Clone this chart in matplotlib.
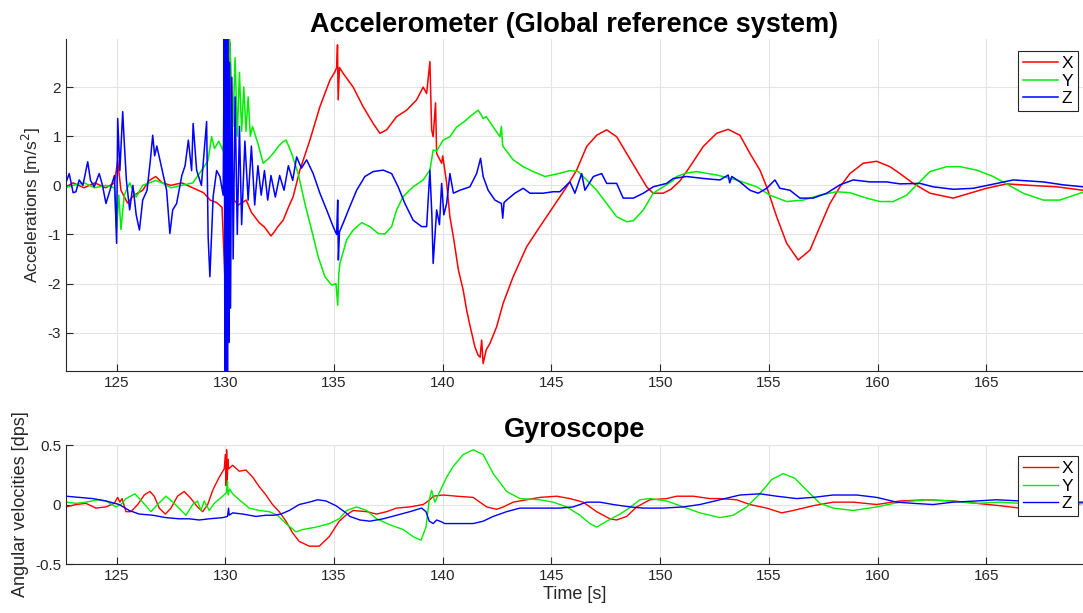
import matplotlib
matplotlib.use("Agg")
import matplotlib.pyplot as plt

plt.rcParams['font.family'] = ['Liberation Sans', 'DejaVu Sans']
plt.rcParams['axes.unicode_minus'] = False

# --- accelerometer, global frame [m/s^2] ---
acc_x_t = [122.6, 123.0, 123.5, 124.0, 124.5, 124.9, 125.05, 125.2, 125.5, 125.8, 126.2, 126.5, 126.8, 127.1,
           127.5, 128.0, 128.5, 129.0, 129.3, 129.6, 129.85, 130.0, 130.05, 130.1, 130.15, 130.22, 130.3, 130.4,
           130.6, 130.96, 131.2, 131.56, 131.8, 132.1, 132.25, 132.4, 132.66, 132.9, 133.12, 133.43, 133.89,
           134.35, 134.81, 135.04, 135.12, 135.16, 135.19, 135.25, 135.42, 135.88, 136.34, 136.8, 137.11, 137.42,
           137.88, 138.34, 138.8, 139.1, 139.26, 139.41, 139.49, 139.56, 139.67, 139.72, 139.95, 140.0, 140.18,
           140.33, 140.49, 140.72, 140.94, 141.1, 141.25, 141.48, 141.63, 141.72, 141.79, 141.86, 142.0, 142.17,
           142.48, 142.78, 143.24, 143.86, 144.47, 145.08, 145.7, 146.16, 146.62, 147.08, 147.54, 148.0, 148.46,
           148.92, 149.38, 149.68, 150.14, 150.5, 150.91, 151.37, 151.98, 152.6, 153.13, 153.67, 154.13, 154.59,
           154.9, 155.36, 155.82, 156.35, 156.89, 157.35, 157.81, 158.27, 158.73, 159.34, 159.96, 160.57, 161.03,
           161.64, 162.41, 163.48, 164.25, 165.01, 165.93, 167.0, 168.24, 169.45]
acc_x = [-0.05, 0.05, -0.05, 0.05, -0.05, 0.05, 0.5, -0.1, -0.36, -0.2, -0.1, 0.1, 0.18, 0.05,
         0.0, 0.05, -0.05, -0.15, -0.3, -0.35, -0.45, -2.1, -2.8, -1.0, 1.5, 2.9, 0.5, -0.3,
         -0.4, -0.3, -0.55, -0.76, -0.85, -1.03, -0.95, -0.85, -0.71, -0.45, -0.23, 0.31, 0.92,
         1.6, 2.14, 2.31, 2.4, 2.86, 1.74, 2.4, 2.28, 2.0, 1.6, 1.26, 1.06, 1.13,
         1.4, 1.53, 1.74, 2.0, 1.87, 2.52, 1.13, 0.99, 1.68, 0.65, 0.45, 0.6, 0.05,
         -0.64, -1.05, -1.72, -2.13, -2.54, -2.85, -3.29, -3.46, -3.5, -3.15, -3.63, -3.35, -3.22,
         -2.88, -2.4, -1.86, -1.25, -0.84, -0.44, -0.03, 0.31, 0.79, 1.02, 1.13, 0.99, 0.65,
         0.31, -0.03, -0.16, -0.16, -0.08, 0.09, 0.38, 0.79, 1.06, 1.14, 1.02, 0.65, 0.31,
         -0.03, -0.64, -1.18, -1.52, -1.32, -0.84, -0.37, -0.03, 0.24, 0.45, 0.49, 0.38, 0.24,
         0.04, -0.16, -0.26, -0.16, -0.06, 0.03, 0.0, -0.03, -0.1]

acc_y_t = [122.6, 123.0, 123.5, 124.0, 124.5, 124.9, 125.0, 125.1, 125.2, 125.35, 125.6, 125.9, 126.2, 126.5,
           126.8, 127.1, 127.5, 128.0, 128.5, 128.9, 129.2, 129.37, 129.5, 129.7, 129.9, 130.05, 130.2, 130.35,
           130.45, 130.55, 130.65, 130.75, 130.85, 130.95, 131.05, 131.15, 131.25, 131.5, 131.74, 132.0, 132.2,
           132.45, 132.66, 132.8, 133.05, 133.35, 133.66, 133.97, 134.27, 134.58, 134.89, 135.09, 135.17, 135.22,
           135.27, 135.58, 135.88, 136.27, 136.65, 137.03, 137.34, 137.65, 137.88, 138.18, 138.64, 139.1, 139.41,
           139.56, 139.72, 140.02, 140.33, 140.64, 141.0, 141.25, 141.63, 141.75, 141.86, 142.0, 142.32, 142.63,
           142.7, 142.75, 142.78, 143.24, 143.7, 144.16, 144.7, 145.24, 145.85, 146.23, 146.62, 147.08, 147.54,
           148.0, 148.46, 148.77, 149.23, 149.68, 150.14, 150.6, 150.76, 151.2, 151.68, 152.6, 153.52, 154.44,
           155.05, 155.82, 156.58, 157.35, 158.11, 158.73, 159.5, 160.11, 160.72, 161.34, 161.8, 162.41, 163.18,
           163.8, 164.56, 165.32, 165.93, 166.7, 167.62, 168.38, 169.45]
acc_y = [-0.05, 0.0, 0.05, -0.05, 0.0, -0.05, -0.91, -0.2, -0.9, -0.2, 0.05, -0.24, 0.0, 0.05,
         0.1, 0.05, -0.05, 0.0, 0.05, 0.3, 0.5, 0.99, 0.75, 0.9, 0.7, 1.5, 2.98, 1.2,
         2.6, 1.0, 2.3, 1.1, 2.0, 1.1, 1.8, 1.0, 1.2, 0.85, 0.45, 0.55, 0.65,
         0.8, 0.89, 0.92, 0.65, 0.24, -0.37, -0.91, -1.45, -1.86, -2.03, -2.0, -2.44, -1.8,
         -1.59, -1.11, -0.91, -0.76, -0.84, -0.98, -0.99, -0.84, -0.5, -0.23, -0.03, 0.11, 0.31,
         0.72, 0.7, 0.92, 0.99, 1.19, 1.3, 1.4, 1.53, 1.45, 1.36, 1.4, 1.19, 0.99,
         1.2, 0.85, 0.79, 0.52, 0.38, 0.28, 0.18, 0.23, 0.3, 0.28, 0.11, -0.1, -0.37,
         -0.64, -0.74, -0.72, -0.5, -0.16, -0.03, 0.1, 0.18, 0.25, 0.28, 0.21, 0.11, -0.03,
         -0.2, -0.33, -0.3, -0.2, -0.13, -0.15, -0.26, -0.33, -0.33, -0.2, 0.01, 0.28, 0.38,
         0.38, 0.31, 0.18, 0.03, -0.16, -0.3, -0.3, -0.14]

acc_z_t = [122.6, 122.82, 123.0, 123.13, 123.28, 123.45, 123.67, 123.8, 123.97, 124.2, 124.35, 124.51, 124.74,
           124.9, 125.0, 125.05, 125.15, 125.28, 125.35, 125.45, 125.6, 125.75, 125.9, 126.05, 126.2, 126.4,
           126.55, 126.66, 126.75, 126.85, 127.1, 127.3, 127.45, 127.58, 127.76, 128.0, 128.15, 128.3, 128.45,
           128.52, 128.68, 128.9, 129.14, 129.21, 129.29, 129.44, 129.6, 129.75, 129.9, 129.95, 129.98, 130.01,
           130.04, 130.07, 130.1, 130.13, 130.16, 130.2, 130.24, 130.3, 130.36, 130.45, 130.55, 130.65, 130.75,
           130.9, 131.05, 131.2, 131.35, 131.5, 131.65, 131.8, 131.95, 132.1, 132.3, 132.5, 132.7, 132.9, 133.1,
           133.28, 133.5, 133.74, 134.04, 134.35, 134.66, 134.96, 135.12, 135.17, 135.2, 135.25, 135.42, 135.73,
           136.04, 136.42, 136.8, 137.26, 137.65, 137.95, 138.26, 138.64, 139.03, 139.26, 139.41, 139.5, 139.56,
           139.72, 139.85, 139.95, 140.05, 140.18, 140.33, 140.49, 140.79, 141.25, 141.56, 141.74, 141.86, 142.09,
           142.4, 142.7, 142.76, 142.82, 142.94, 143.32, 143.7, 144.01, 144.62, 145.08, 145.39, 145.85, 146.08,
           146.39, 146.54, 146.93, 147.31, 147.54, 148.0, 148.3, 148.77, 149.23, 149.68, 150.3, 150.6, 151.22,
           151.98, 152.75, 153.13, 153.2, 153.3, 153.67, 154.13, 154.51, 154.9, 155.28, 155.51, 155.97, 156.43,
           157.04, 157.66, 158.27, 158.88, 159.65, 160.42, 161.03, 161.95, 162.56, 163.48, 164.4, 165.17,
           166.24, 167.62, 168.54, 169.45]
acc_z = [-0.03, 0.24, -0.15, -0.13, 0.11, 0.0, 0.48, 0.1, -0.03, 0.24, 0.0, -0.37, -0.03,
         0.2, -1.18, 1.36, 0.3, 1.5, 0.89, 0.1, -0.5, 0.0, -0.6, -0.91, -0.3, -0.1,
         0.5, 1.02, 0.6, 0.8, 0.3, -0.1, -0.98, -0.5, -0.37, 0.2, 0.4, 0.92, 0.3,
         1.26, 0.31, 0.0, 1.3, -1.05, -1.86, -0.23, 0.3, 0.18, -0.2, 2.98, -3.78, 2.98,
         -3.78, 2.98, -3.78, 2.98, -3.2, 2.5, -2.5, 2.2, -1.5, 1.8, -1.0, 1.2, -0.8,
         0.9, -0.3, 0.8, -0.4, 0.4, -0.2, 0.3, -0.3, 0.2, -0.24, 0.2, -0.1, 0.4, 0.1,
         0.58, 0.35, 0.52, 0.24, -0.16, -0.5, -0.84, -1.0, -0.3, -1.52, -0.95, -0.77, -0.43,
         -0.1, 0.18, 0.28, 0.31, 0.24, -0.03, -0.37, -0.71, -0.84, -0.84, 0.31, -0.6, -1.59,
         -0.5, -0.8, 0.04, -0.6, -0.37, 0.24, -0.16, -0.1, -0.03, 0.24, 0.55, 0.18, -0.1,
         -0.3, -0.37, -0.67, -0.35, -0.3, -0.16, -0.06, -0.16, -0.16, -0.13, -0.13, 0.07, -0.16,
         0.24, -0.1, 0.18, 0.24, 0.04, 0.04, -0.26, -0.26, -0.16, -0.03, 0.04, 0.14, 0.18,
         0.14, 0.11, 0.21, 0.05, 0.18, 0.07, -0.1, -0.16, -0.06, 0.11, -0.06, -0.1, -0.26,
         -0.26, -0.16, 0.01, 0.11, 0.07, 0.07, 0.03, 0.04, -0.03, -0.08, -0.06, 0.01,
         0.11, 0.07, 0.01, -0.03]

# --- gyroscope [dps] ---
gyr_x_t = [122.67, 123.13, 123.59, 124.05, 124.51, 124.89, 125.05, 125.15, 125.25, 125.43, 125.66, 125.97, 126.27,
           126.53, 126.73, 126.96, 127.24, 127.5, 127.8, 128.11, 128.42, 128.72, 128.96, 129.19, 129.42, 129.72,
           129.95, 130.0, 130.03, 130.06, 130.09, 130.12, 130.15, 130.34, 130.64, 130.95, 131.26, 131.56, 131.87,
           132.17, 132.48, 132.79, 133.1, 133.4, 133.86, 134.32, 134.78, 135.24, 135.55, 135.88, 136.5, 136.96,
           137.42, 137.88, 138.49, 139.1, 139.41, 139.56, 140.02, 140.64, 141.4, 141.71, 142.02, 142.48, 142.79,
           143.24, 143.86, 144.47, 145.24, 145.85, 146.46, 147.08, 147.69, 147.99, 148.46, 148.92, 149.53, 150.3,
           150.76, 151.52, 152.29, 152.75, 153.52, 154.13, 154.9, 155.59, 156.12, 157.04, 157.96, 158.88, 159.96,
           161.03, 162.26, 163.48, 164.56, 165.63, 166.55, 168.39, 169.45]
gyr_x = [-0.02, 0.0, 0.01, -0.03, -0.02, 0.01, 0.06, 0.02, 0.05, -0.06, -0.06, 0.0, 0.08,
         0.11, 0.07, -0.03, -0.08, -0.03, 0.07, 0.11, 0.05, -0.02, -0.06, 0.0, 0.12, 0.23,
         0.3, 0.42, 0.16, 0.46, 0.2, 0.38, 0.3, 0.33, 0.28, 0.29, 0.23, 0.15, 0.08,
         0.0, -0.06, -0.14, -0.24, -0.31, -0.35, -0.35, -0.27, -0.14, -0.09, -0.05, -0.06, -0.08,
         -0.06, -0.03, -0.02, 0.0, 0.04, 0.07, 0.08, 0.07, 0.06, 0.02, -0.02, -0.04, -0.02,
         0.02, 0.04, 0.06, 0.07, 0.05, 0.02, -0.06, -0.12, -0.13, -0.1, -0.02, 0.04, 0.05,
         0.07, 0.07, 0.05, 0.05, 0.04, 0.0, -0.03, -0.07, -0.05, -0.01, 0.02, 0.02, 0.0,
         0.03, 0.04, 0.03, 0.01, -0.01, -0.03, -0.01, 0.01]

gyr_y_t = [122.67, 123.13, 123.59, 124.13, 124.51, 124.97, 125.2, 125.43, 125.84, 126.2, 126.58, 126.88, 127.27,
           127.65, 128.19, 128.5, 128.72, 128.88, 129.03, 129.26, 129.49, 129.88, 130.05, 130.1, 130.13, 130.2,
           130.34, 130.64, 131.1, 131.56, 132.02, 132.4, 132.79, 133.25, 133.56, 134.17, 134.78, 135.24, 135.58,
           136.04, 136.5, 136.96, 137.57, 138.18, 138.64, 139.0, 139.23, 139.38, 139.49, 139.64, 139.87, 140.18,
           140.48, 140.94, 141.4, 141.86, 142.32, 142.94, 143.55, 144.47, 145.08, 145.7, 146.31, 146.77, 147.08,
           147.54, 148.15, 148.5, 149.07, 149.53, 150.3, 151.06, 151.83, 152.75, 153.36, 153.98, 154.59, 155.13,
           155.66, 156.2, 156.74, 157.35, 157.96, 158.88, 159.96, 161.03, 162.26, 163.33, 164.56, 165.63, 166.55,
           168.39, 169.45]
gyr_y = [0.02, 0.01, 0.02, 0.04, 0.03, -0.02, 0.0, 0.05, 0.09, 0.02, -0.06, 0.0, 0.07,
         0.01, -0.09, 0.0, 0.03, -0.05, 0.03, -0.05, 0.01, 0.07, 0.1, 0.2, 0.08, 0.13,
         0.09, 0.04, -0.03, -0.05, -0.06, -0.09, -0.16, -0.23, -0.21, -0.19, -0.16, -0.12, -0.05,
         -0.02, -0.05, -0.12, -0.17, -0.21, -0.27, -0.3, -0.19, 0.04, 0.12, 0.02, 0.11, 0.23,
         0.32, 0.42, 0.46, 0.42, 0.26, 0.11, 0.05, 0.04, 0.02, -0.02, -0.09, -0.16, -0.19,
         -0.14, -0.08, -0.04, 0.04, 0.05, 0.03, -0.02, -0.07, -0.11, -0.09, -0.02, 0.09, 0.21,
         0.26, 0.22, 0.12, 0.01, -0.03, -0.05, -0.02, 0.02, 0.04, 0.03, 0.01, 0.02, 0.01,
         0.0, 0.01]

gyr_z_t = [122.67, 123.28, 123.9, 124.51, 125.12, 125.58, 126.04, 126.66, 127.27, 127.88, 128.34, 128.8, 129.26,
           129.88, 130.1, 130.15, 130.18, 130.34, 130.8, 131.41, 131.87, 132.25, 132.56, 132.94, 133.4, 133.86,
           134.25, 134.63, 135.09, 135.55, 135.73, 136.19, 136.65, 137.26, 137.88, 138.49, 139.03, 139.23, 139.38,
           139.56, 139.72, 139.87, 140.1, 140.64, 141.4, 141.86, 142.32, 142.94, 143.55, 144.47, 145.39, 146.0,
           146.62, 147.23, 147.84, 148.61, 149.22, 150.14, 151.06, 151.83, 152.75, 153.67, 154.59, 155.36, 156.28,
           157.04, 157.96, 159.04, 159.96, 160.88, 161.64, 162.56, 163.48, 164.56, 165.48, 166.55, 168.39, 169.45]
gyr_z = [0.07, 0.06, 0.05, 0.03, 0.0, -0.05, -0.08, -0.09, -0.11, -0.12, -0.12, -0.13, -0.12,
         -0.11, -0.1, -0.03, -0.09, -0.07, -0.08, -0.1, -0.09, -0.09, -0.08, -0.05, 0.0, 0.02,
         0.04, 0.03, -0.01, -0.07, -0.1, -0.13, -0.14, -0.12, -0.09, -0.06, -0.03, -0.06, -0.14,
         -0.16, -0.13, -0.14, -0.16, -0.16, -0.16, -0.14, -0.1, -0.06, -0.03, -0.03, -0.03, -0.02,
         0.02, 0.02, 0.0, -0.02, -0.03, -0.03, -0.02, 0.0, 0.04, 0.08, 0.09, 0.07, 0.05,
         0.06, 0.08, 0.08, 0.06, 0.02, 0.01, 0.0, 0.02, 0.03, 0.04, 0.03, 0.02, 0.02]

labels = ['X', 'Y', 'Z']
colors = ['#ff0000', '#00ee00', '#0000ff']
x_range = (122.67, 169.45)
axis_grey = '#262626'

fig = plt.figure(figsize=(10.83, 6.13), dpi=100)
ax_acc = fig.add_axes([0.0609, 0.3948, 0.9391, 0.5416])
ax_gyr = fig.add_axes([0.0609, 0.0799, 0.9391, 0.1941])


def style_axes(ax):
    for side in ('top', 'right'):
        ax.spines[side].set_visible(False)
    for side in ('left', 'bottom'):
        ax.spines[side].set_color(axis_grey)
        ax.spines[side].set_linewidth(0.8)
    ax.tick_params(direction='in', length=5, width=0.8, color=axis_grey,
                   labelcolor=axis_grey, labelsize=11)
    ax.grid(True, color='#e3e3e3', linewidth=0.8)
    ax.set_axisbelow(True)
    ax.set_xlim(*x_range)
    ax.set_xticks(range(125, 170, 5))


def add_legend(ax, top_px):
    leg = ax.legend(loc='upper right', bbox_to_anchor=(1078 / 1083, 1 - top_px / 613),
                    bbox_transform=fig.transFigure, borderaxespad=0, fancybox=False,
                    edgecolor=axis_grey, framealpha=1, fontsize=12.5, borderpad=0.3,
                    labelspacing=0.12, handlelength=2.0, handletextpad=0.2)
    leg.get_frame().set_linewidth(0.8)


# accelerometer panel
for t, v, lab, col in zip([acc_x_t, acc_y_t, acc_z_t], [acc_x, acc_y, acc_z], labels, colors):
    ax_acc.plot(t, v, color=col, lw=1.1, label=lab)
style_axes(ax_acc)
ax_acc.set_ylim(-3.78, 2.98)
ax_acc.set_yticks([-3, -2, -1, 0, 1, 2])
ax_acc.set_ylabel('Accelerations [m/s$^2$]', fontsize=12.5, color=axis_grey, labelpad=3)
ax_acc.set_title('Accelerometer (Global reference system)', fontsize=19.5, fontweight='bold', pad=5)
add_legend(ax_acc, 51)

# gyroscope panel
for t, v, lab, col in zip([gyr_x_t, gyr_y_t, gyr_z_t], [gyr_x, gyr_y, gyr_z], labels, colors):
    ax_gyr.plot(t, v, color=col, lw=1.0, label=lab)
style_axes(ax_gyr)
ax_gyr.set_ylim(-0.5, 0.5)
ax_gyr.set_yticks([-0.5, 0, 0.5])
ax_gyr.set_yticklabels(['-0.5', '0', '0.5'])
ax_gyr.set_ylabel('Angular velocities [dps]', fontsize=13, color=axis_grey, labelpad=4)
ax_gyr.set_xlabel('Time [s]', fontsize=13, color=axis_grey, labelpad=2)
ax_gyr.set_title('Gyroscope', fontsize=19.5, fontweight='bold', pad=6)
add_legend(ax_gyr, 456)

fig.savefig('out.png', dpi=100)
